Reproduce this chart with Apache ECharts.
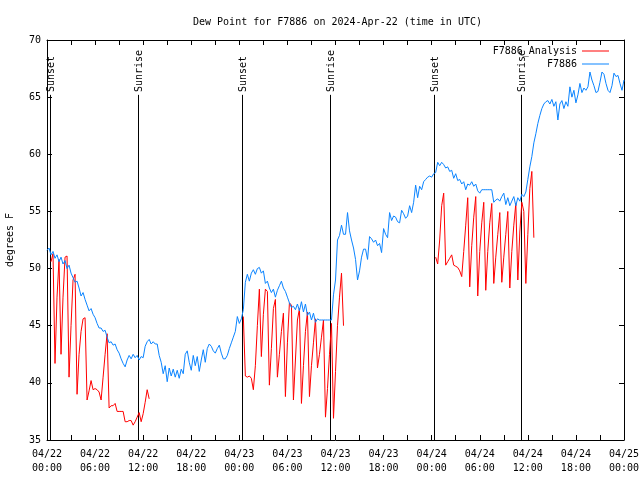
<!DOCTYPE html>
<html>
<head>
<meta charset="utf-8">
<script src="https://cdn.jsdelivr.net/npm/echarts@6/dist/echarts.min.js"></script>
<style>html,body{margin:0;padding:0;background:#fff}#c{width:640px;height:480px}</style>
</head>
<body>
<div id="c"></div>
<script>
// ---- data (hours since 2024-04-22 00:00 UTC) ----
const xTickLabels = ['04/22\n00:00','04/22\n06:00','04/22\n12:00','04/22\n18:00','04/23\n00:00','04/23\n06:00','04/23\n12:00','04/23\n18:00','04/24\n00:00','04/24\n06:00','04/24\n12:00','04/24\n18:00','04/25\n00:00'];
const sampleStepHours = 0.25; // observations every 15 minutes

// F7886 observations, starting 04/22 00:00
const obsValues = [
51.6,51.8,51.2,51.5,50.9,51.2,50.6,51.0,50.4,50.7,50.0,50.3,
49.6,49.2,48.8,48.9,48.3,47.6,47.9,47.3,46.8,46.3,46.5,46.0,
45.7,45.2,44.8,44.8,44.5,44.6,44.0,43.5,43.6,43.3,43.4,42.9,
42.6,42.1,41.7,41.4,42.0,42.4,42.1,42.5,42.2,42.4,42.0,42.3,
42.2,43.2,43.6,43.8,43.4,43.6,43.4,43.4,42.4,41.8,40.8,41.5,
40.1,41.3,40.6,41.2,40.5,41.1,40.4,41.2,40.8,42.5,42.8,41.8,
41.1,42.4,41.5,42.3,41.0,42.0,42.9,41.8,43.0,43.4,43.2,42.8,
42.6,43.0,43.3,42.6,42.1,42.1,42.4,43.0,43.5,44.0,44.5,45.8,
45.2,45.6,46.4,48.8,49.5,48.9,49.6,49.9,49.5,50.0,50.1,49.6,
49.8,48.7,48.9,48.3,47.9,48.2,47.5,48.1,48.5,48.9,48.3,48.0,
47.5,47.0,46.6,46.7,46.4,46.9,46.3,47.1,46.2,46.9,45.9,46.2,
45.5,46.1,45.3,45.6,45.5,45.5,45.5,45.5,45.5,45.5,45.5,47.7,
49.0,52.5,52.9,53.8,53.0,53.0,54.9,53.3,52.5,51.8,50.8,49.0,
49.8,51.0,51.7,51.7,50.8,52.8,52.6,52.3,52.5,52.0,52.2,51.4,
53.5,53.0,52.7,54.9,54.2,54.6,54.5,54.1,54.0,55.1,54.8,54.4,
54.6,55.5,54.9,55.8,57.3,56.2,57.2,56.9,57.6,57.8,58.0,58.1,
58.0,58.3,58.4,59.3,59.0,59.3,59.1,58.8,58.9,58.5,58.6,57.9,
58.3,57.7,57.8,57.4,57.6,56.9,57.4,57.3,57.6,57.2,57.4,56.8,
56.6,56.9,56.9,56.9,56.9,56.9,56.9,55.8,56.0,56.1,55.9,56.3,
56.6,55.6,56.2,55.5,55.9,56.3,55.5,56.2,55.9,56.5,56.3,56.7,
57.8,58.9,59.8,61.0,61.8,62.7,63.4,64.0,64.4,64.6,64.7,64.4,
64.8,64.2,64.6,63.0,64.4,64.7,64.0,64.6,64.2,65.9,65.0,65.6,
64.5,65.2,66.2,65.4,65.8,65.6,65.9,67.2,66.5,66.0,65.4,65.5,
66.3,67.2,67.0,66.2,65.6,65.4,66.0,67.1,66.8,66.9,66.2,65.6,66.5
];

// F7886 Analysis, three runs
const analysisStartHours = [0.5, 24.5, 48.5];
const analysisRun1 = [
50.6,51.3,41.7,47.5,50.8,42.5,47.5,51.0,51.1,40.5,45.0,49.0,
49.5,39.0,42.5,44.5,45.6,45.7,38.5,39.3,40.2,39.4,39.5,39.4,
39.2,38.5,40.5,42.5,44.3,37.8,38.0,38.0,38.2,37.5,37.5,37.5,
37.5,36.6,36.6,36.7,36.7,36.3,36.6,37.0,37.4,36.6,37.3,38.3,
39.4,38.6];
const analysisRun2 = [
45.8,40.6,40.5,40.6,40.4,39.4,41.5,45.0,48.2,42.3,46.0,48.2,
48.0,39.8,43.0,46.5,47.3,40.5,42.5,44.5,46.1,38.8,43.5,47.0,
46.8,38.5,42.0,45.5,46.5,38.2,41.5,44.5,46.2,38.8,41.5,43.5,
45.6,41.3,42.5,44.0,45.5,37.0,39.5,42.5,45.2,36.9,41.0,45.0,
47.5,49.6,45.0];
const analysisRun3 = [
51.0,50.4,52.5,55.5,56.6,50.3,50.6,50.9,51.2,50.3,50.2,50.1,
49.8,49.3,51.5,53.8,56.2,48.4,52.0,54.5,56.3,47.6,51.5,54.0,
55.8,48.1,51.5,54.0,55.7,48.7,51.0,53.0,54.9,48.8,51.0,53.0,
55.0,48.3,51.5,53.8,55.7,49.0,53.2,55.8,55.0,48.7,53.0,57.0,
58.5,52.7];

const sunLabels = ['Sunset','Sunrise','Sunset','Sunrise','Sunset','Sunrise'];
const sunHours = [0.37, 11.38, 24.37, 35.35, 48.29, 59.18];

// ---- build ----
const FONT = '"DejaVu Sans Mono", "Liberation Mono", monospace';
const obsData = obsValues.map((v, i) => [i * sampleStepHours, v]);
const anaData = [];
[analysisRun1, analysisRun2, analysisRun3].forEach((run, r) => {
  run.forEach((v, i) => anaData.push([analysisStartHours[r] + i * sampleStepHours, v]));
  anaData.push([analysisStartHours[r] + run.length * sampleStepHours, '-']);
});
const sunData = sunHours.map((h, i) => [h, i]);

const axisCommon = {
  axisLine: {show: true, onZero: false, lineStyle: {color: '#000', width: 1}},
  axisTick: {show: true, inside: true, length: 5, lineStyle: {color: '#000'}},
  splitLine: {show: false}
};
const xBase = Object.assign({type: 'value', min: 0, max: 72, interval: 6,
  minorTick: {show: true, splitNumber: 2, length: 5, lineStyle: {color: '#000'}}}, axisCommon);
const yBase = Object.assign({type: 'value', min: 35, max: 70, interval: 5}, axisCommon);

const chart = echarts.init(document.getElementById('c'), null, {renderer: 'canvas'});
chart.setOption({
  animation: false,
  backgroundColor: '#fff',
  title: {
    text: 'Dew Point for F7886 on 2024-Apr-22 (time in UTC)',
    left: 188, top: 12,
    textStyle: {fontFamily: FONT, fontSize: 10, fontWeight: 'normal', color: '#000'}
  },
  legend: {
    orient: 'vertical', right: 31, top: 45, align: 'right', padding: 0,
    itemWidth: 27, itemHeight: 1, itemGap: 1, icon: 'rect',
    textStyle: {fontFamily: FONT, fontSize: 10, color: '#000', lineHeight: 12},
    data: ['F7886_Analysis', 'F7886']
  },
  grid: {left: 47, right: 16, top: 40, bottom: 40, containLabel: false, outerBoundsMode: 'none'},
  xAxis: [
    Object.assign({}, xBase, {position: 'bottom',
      axisLabel: {color: '#000', fontFamily: FONT, fontSize: 10, lineHeight: 14, margin: 7,
        formatter: v => xTickLabels[Math.round(v / 6)]}}),
    Object.assign({}, xBase, {position: 'top', axisLabel: {show: false}})
  ],
  yAxis: [
    Object.assign({}, yBase, {position: 'left', name: 'degrees F', nameLocation: 'middle', nameGap: 32,
      nameTextStyle: {fontFamily: FONT, fontSize: 10, color: '#000'},
      axisLabel: {color: '#000', fontFamily: FONT, fontSize: 10, margin: 6}}),
    Object.assign({}, yBase, {position: 'right', axisLabel: {show: false}})
  ],
  series: [
    {
      type: 'custom', name: 'sun', xAxisIndex: 0, yAxisIndex: 0, z: 1,
      data: sunData, silent: true,
      renderItem: function (params, api) {
        const h = api.value(0), idx = api.value(1);
        const p0 = api.coord([h, 35]);
        const p1 = api.coord([h, 65.2]);
        const pt = api.coord([h, 65.45]);
        const x = Math.round(p0[0]) + 0.5;
        return {type: 'group', children: [
          {type: 'line', shape: {x1: x, y1: p0[1], x2: x, y2: p1[1]}, style: {stroke: '#000', lineWidth: 1}},
          {type: 'text', x: x + 1, y: pt[1], rotation: Math.PI / 2,
            style: {text: sunLabels[idx], fill: '#000', font: '10px ' + FONT, align: 'left', verticalAlign: 'middle'}}
        ]};
      }
    },
    {
      type: 'line', name: 'F7886_Analysis', data: anaData, showSymbol: false, connectNulls: false,
      lineStyle: {color: '#ff0000', width: 1}, itemStyle: {color: '#ff0000'}, z: 2
    },
    {
      type: 'line', name: 'F7886', data: obsData, showSymbol: false,
      lineStyle: {color: '#0a84ff', width: 1}, itemStyle: {color: '#0a84ff'}, z: 3
    }
  ]
});
</script>
</body>
</html>
